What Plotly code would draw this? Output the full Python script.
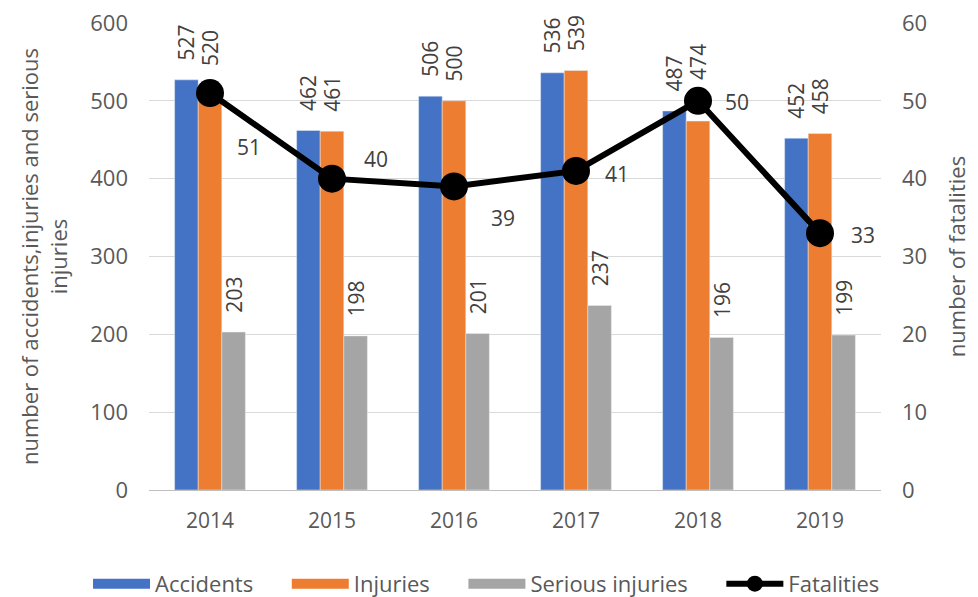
import plotly.graph_objects as go

years = [2014, 2015, 2016, 2017, 2018, 2019]
accidents = [527, 462, 506, 536, 487, 452]
injuries = [520, 461, 500, 539, 474, 458]
serious = [203, 198, 201, 237, 196, 199]
fatalities = [51, 40, 39, 41, 50, 33]

# label offsets (px) for fatality labels
fat_dx = [39, 44, 49, 41, 39, 43]
fat_dy = [-54, 20, -32, -3, -1, -2]
# extra label padding (in non-breaking spaces) per bar series
pad_acc = [3, 3, 3, 3, 3, 3]
pad_inj = [3, 3, 3, 3, 7, 3]
pad_ser = [3, 3, 3, 3, 3, 3]

FONT = "Open Sans"
TXT = "#595959"
LBL = "#404040"
FS = 21
NB = "\u00a0"
LEG_GAP = NB * 5

series = [("Accidents", accidents, "#4472C4", pad_acc),
          ("Injuries", injuries, "#ED7D31", pad_inj),
          ("Serious injuries", serious, "#A5A5A5", pad_ser)]

fig = go.Figure()
for name, vals, col, pad in series:
    fig.add_trace(go.Bar(x=years, y=vals, name=name, marker_color=col,
                         showlegend=False,
                         text=[NB * p + str(v) for v, p in zip(vals, pad)],
                         textposition="outside",
                         textangle=-90, constraintext="none", cliponaxis=False,
                         textfont=dict(family=FONT, size=FS, color=LBL)))

# legend swatches as wide rectangles
for name, vals, col, pad in series:
    fig.add_trace(go.Scatter(x=[years[0]], y=[None], name=name + LEG_GAP, mode="lines",
                             line=dict(color=col, width=14)))

fig.add_trace(go.Scatter(x=years, y=fatalities, name="Fatalities", yaxis="y2",
                         mode="lines+markers", line=dict(color="black", width=6),
                         marker=dict(color="black", size=28), cliponaxis=False))

for i, v in enumerate(fatalities):
    fig.add_annotation(x=i, xref="x", y=v, yref="y2", text=str(v), showarrow=False,
                       xshift=fat_dx[i], yshift=fat_dy[i],
                       font=dict(family=FONT, size=FS, color=LBL))

fig.update_layout(
    width=978, height=597,
    margin=dict(l=149, r=97, t=23, b=107, autoexpand=False),
    paper_bgcolor="white", plot_bgcolor="white",
    barmode="group", bargap=0.42, bargroupgap=0,
    font=dict(family=FONT, size=FS, color=TXT),
    xaxis=dict(type="category", categoryorder="array", categoryarray=years,
               range=[-0.5, len(years) - 0.5], automargin=False,
               showgrid=False, showline=True, linecolor="#BFBFBF",
               linewidth=1, ticks="", ticklabelstandoff=12,
               tickfont=dict(size=FS, color=TXT)),
    yaxis=dict(range=[0, 600], dtick=100, showgrid=True, gridcolor="#D9D9D9",
               gridwidth=1, zeroline=False, ticks="", ticklabelstandoff=20,
               automargin=False,
               tickfont=dict(size=22, color=TXT),
               title=dict(text="number of accidents,injuries and serious<br>injuries",
                          font=dict(size=22, color=TXT), standoff=16)),
    yaxis2=dict(range=[0, 60], dtick=10, overlaying="y", side="right",
                showgrid=False, zeroline=False, ticks="", ticklabelstandoff=20,
                automargin=False,
                tickfont=dict(size=22, color=TXT),
                title=dict(text="number of fatalities", font=dict(size=22, color=TXT),
                           standoff=23)),
    legend=dict(orientation="h", x=-0.0833, xanchor="left", xref="paper",
                y=-0.156, yanchor="top", yref="paper",
                bgcolor="rgba(0,0,0,0)",
                font=dict(size=22, color=TXT), itemwidth=57,
                traceorder="normal"),
    showlegend=True,
)

fig.write_html("out.html", config={"displayModeBar": False},
               post_script="document.body.style.margin='0';")
